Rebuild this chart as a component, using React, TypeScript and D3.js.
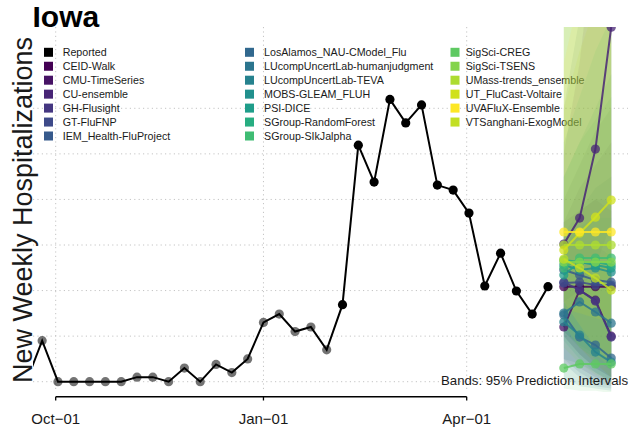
import React from "react";
import * as d3 from "d3";

const W = 629;
const H = 430;

const reportedDates = [
  "2022-09-18", "2022-09-25", "2022-10-02", "2022-10-09", "2022-10-16", "2022-10-23", "2022-10-30",
  "2022-11-06", "2022-11-13", "2022-11-20", "2022-11-27", "2022-12-04", "2022-12-11", "2022-12-18",
  "2022-12-25", "2023-01-01", "2023-01-08", "2023-01-15", "2023-01-22", "2023-01-29", "2023-02-05",
  "2023-02-12", "2023-02-19", "2023-02-26", "2023-03-05", "2023-03-12", "2023-03-19", "2023-03-26",
  "2023-04-02", "2023-04-09", "2023-04-16", "2023-04-23", "2023-04-30", "2023-05-07",
];
const reportedValues = [
  0, 18, 0, 0, 0, 0, 0, 2, 2, 0, 6, 0, 7.6, 4, 10, 26, 29.7, 22, 24, 14, 33.8,
  103.8, 87.6, 123.9, 113.6, 121.5, 86.3, 84.1, 74, 42, 56.4, 39.8, 29.7, 41.7,
];
const finalDataFrom = "2023-02-05";

const forecastDates = ["2023-05-14", "2023-05-21", "2023-05-28", "2023-06-04"];

const models = [
  "CEID-Walk", "CMU-TimeSeries", "CU-ensemble", "GH-Flusight", "GT-FluFNP", "IEM_Health-FluProject",
  "LosAlamos_NAU-CModel_Flu", "LUcompUncertLab-humanjudgment", "LUcompUncertLab-TEVA", "MOBS-GLEAM_FLUH",
  "PSI-DICE", "SGroup-RandomForest", "SGroup-SIkJalpha", "SigSci-CREG", "SigSci-TSENS",
  "UMass-trends_ensemble", "UT_FluCast-Voltaire", "UVAFluX-Ensemble", "VTSanghani-ExogModel",
];
const modelColors = [
  "#440154", "#471365", "#482576", "#453781", "#3e4a89", "#375a8c", "#31688e", "#2b758e", "#26828e",
  "#21908d", "#1f9d8a", "#27ad81", "#3fbc73", "#5ec962", "#84d44b", "#addc30", "#d0e11c", "#fde725", "#c2df23",
];
const medians = [
  [41.7, 41.7, 41.7, 41.7],
  [24.0, 40.2, 35.8, 20.0],
  [60.4, 71.8, 102.1, 155.6],
  [43.7, 40.2, 35.4, 19.6],
  [43.3, 43.7, 42.4, 42.4],
  [49.0, 46.8, 44.6, 43.7],
  [29.3, 19.6, 16.1, 10.4],
  [30.1, 35.0, 30.6, 25.7],
  [26.2, 20.5, 13.0, 8.6],
  [51.2, 49.0, 49.9, 48.1],
  [46.8, 52.5, 51.2, 49.9],
  [53.4, 52.5, 52.5, 51.2],
  [49.9, 54.3, 54.3, 54.3],
  [6.0, 7.8, 7.8, 7.8],
  [52.5, 52.5, 52.5, 52.5],
  [60, 60, 60, 60],
  [57.8, 65.2, 72.2, 79.7],
  [65.7, 65.7, 65.7, 65.7],
  [53.8, 49.9, 45.5, 40.2],
];
const lowers = [
  [20, 12, 6, 2],
  [8, 6, 2, 0],
  [35, 40, 50, 70],
  [22, 15, 8, 2],
  [20, 12, 6, 2],
  [10, 4, 0, -2],
  [8, 2, -2, -3],
  [10, 8, 4, 0],
  [2, -2, -3, -4],
  [22, 16, 12, 8],
  [18, 10, 4, 0],
  [25, 15, 10, 5],
  [22, 15, 10, 5],
  [-3, -4, -4, -5],
  [15, 8, 3, 0],
  [30, 20, 12, 6],
  [32, 30, 28, 26],
  [35, 25, 15, 8],
  [25, 15, 8, 2],
];
const uppers = [
  [70, 85, 95, 105],
  [55, 75, 80, 75],
  [100, 140, 200, 300],
  [70, 75, 80, 80],
  [80, 95, 110, 120],
  [120, 160, 200, 250],
  [60, 60, 60, 55],
  [65, 75, 85, 90],
  [60, 68, 72, 72],
  [90, 105, 120, 135],
  [105, 125, 145, 160],
  [90, 105, 115, 125],
  [160, 190, 220, 250],
  [30, 40, 50, 60],
  [165, 200, 240, 280],
  [165, 200, 240, 280],
  [170, 210, 260, 300],
  [140, 170, 200, 230],
  [120, 145, 165, 185],
];

const xTicks = ["2022-10-01", "2023-01-01", "2023-04-01"];
const xTickLabels = ["Oct\u221201", "Jan\u221201", "Apr\u221201"];
const yGrid = [0, 20, 40, 60, 80, 100, 120];

const parse = (s: string) => new Date(s + "T00:00:00Z");
const FONT = "'Liberation Sans', Arial, Helvetica, sans-serif";

export default function App() {
  const panel = { left: 33, right: 628, top: 27, bottom: 392 };
  const x = d3.scaleUtc().domain([parse("2022-10-01"), parse("2023-04-01")]).range([55.7, 466.7]);
  const y = d3.scaleLinear().domain([0, 120]).range([381.7, 108.3]);

  const reported = reportedDates.map((d, i) => ({ date: parse(d), value: reportedValues[i] }));
  const cutoff = parse(finalDataFrom);
  const line = d3.line<{ date: Date; value: number }>().x((d) => x(d.date)).y((d) => y(d.value));

  const fDates = forecastDates.map(parse);
  const area = d3.area<number>().x((_, i) => x(fDates[i]));

  const legendCols = [
    { sx: 44, tx: 62.7, items: ["Reported", ...models.slice(0, 6)] },
    { sx: 245, tx: 264, items: models.slice(6, 13) },
    { sx: 450.5, tx: 465.7, items: models.slice(13) },
  ];
  const colorOf = (name: string) => (name === "Reported" ? "#000000" : modelColors[models.indexOf(name)]);

  return (
    <svg width={W} height={H} style={{ position: "absolute", left: 0, top: 0, background: "#fff" }} fontFamily={FONT}>
      <defs>
        <clipPath id="panel">
          <rect x={panel.left} y={panel.top} width={panel.right - panel.left} height={panel.bottom - panel.top} />
        </clipPath>
      </defs>
      {yGrid.map((v) => (
        <line key={"gy" + v} x1={panel.left} x2={panel.right} y1={y(v)} y2={y(v)} stroke="#c4c4c4" strokeWidth={1} strokeDasharray="1.2 3.2" />
      ))}
      {xTicks.map((t) => (
        <line key={"gx" + t} x1={x(parse(t))} x2={x(parse(t))} y1={panel.top} y2={panel.bottom} stroke="#c4c4c4" strokeWidth={1} strokeDasharray="1.2 3.2" />
      ))}

      {legendCols.map((col, ci) =>
        col.items.map((name, ri) => {
          const cy = 52.3 + ri * 13.95;
          return (
            <g key={ci + "-" + ri}>
              <rect x={col.sx} y={cy - 4.5} width={9} height={9} fill={colorOf(name)} />
              <text x={col.tx} y={cy + 3.8} fontSize={10.7} fill="#1a1a1a">
                {name}
              </text>
            </g>
          );
        })
      )}

      <g clipPath="url(#panel)">
        {models.map((m, mi) => (
          <path
            key={"band" + m}
            d={area.y0((_, i) => y(lowers[mi][i])).y1((_, i) => y(uppers[mi][i]))(fDates.map((_, i) => i)) || ""}
            fill={modelColors[mi]}
            fillOpacity={0.11}
          />
        ))}
        <path d={line(reported) || ""} fill="none" stroke="#000" strokeWidth={2} />
        {reported.map((d, i) => (
          <circle key={"rp" + i} cx={x(d.date)} cy={y(d.value)} r={4.6} fill="#000" fillOpacity={d.date < cutoff ? 0.55 : 1} />
        ))}
        {models.map((m, mi) => {
          const pts = fDates.map((d, i) => ({ date: d, value: medians[mi][i] }));
          return (
            <g key={"fc" + m}>
              <path d={line(pts) || ""} fill="none" stroke={modelColors[mi]} strokeWidth={2} strokeOpacity={0.85} />
              {pts.map((p, i) => (
                <circle key={i} cx={x(p.date)} cy={y(p.value)} r={4.6} fill={modelColors[mi]} fillOpacity={0.75} />
              ))}
            </g>
          );
        })}
      </g>

      <line x1={x(parse(xTicks[0]))} x2={x(parse(xTicks[xTicks.length - 1]))} y1={396.7} y2={396.7} stroke="#000" strokeWidth={1.6} />
      {xTicks.map((t, i) => (
        <g key={"xt" + t}>
          <line x1={x(parse(t))} x2={x(parse(t))} y1={396.7} y2={400.5} stroke="#000" strokeWidth={1.3} />
          <text x={x(parse(t))} y={424} fontSize={15} textAnchor="middle" fill="#1a1a1a">
            {xTickLabels[i]}
          </text>
        </g>
      ))}

      <text x={628} y={385} fontSize={13.2} textAnchor="end" fill="#1a1a1a">
        Bands: 95% Prediction Intervals
      </text>

      <text transform="translate(31.5,210) rotate(-90)" fontSize={27} textAnchor="middle" fill="#1a1a1a">
        New Weekly Hospitalizations
      </text>
      <text x={32.5} y={27} fontSize={30} fontWeight="bold" fill="#000">
        Iowa
      </text>
    </svg>
  );
}
